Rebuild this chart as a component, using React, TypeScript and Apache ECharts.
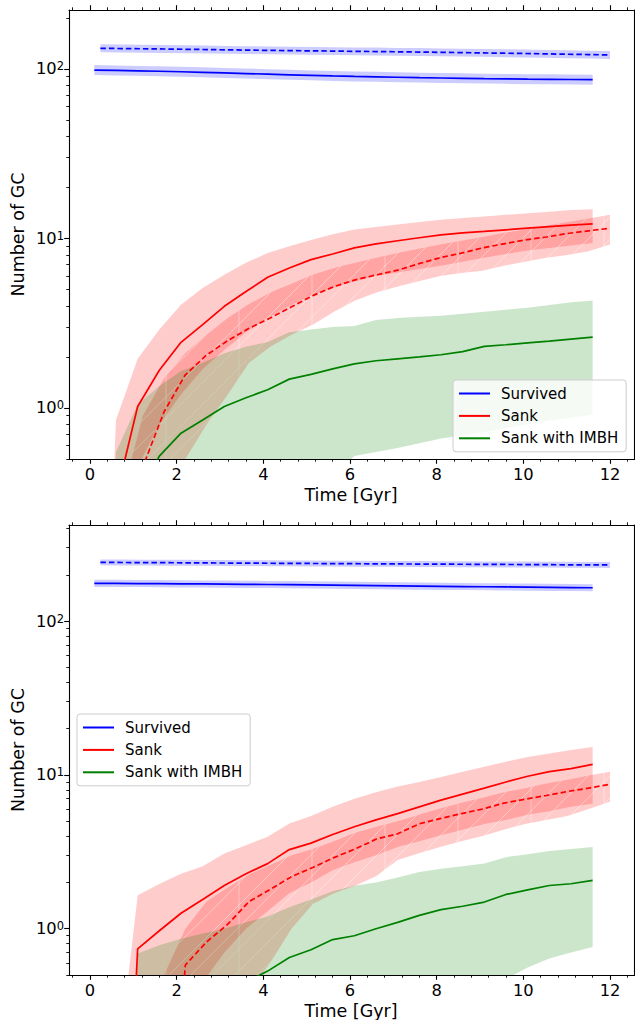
import { useEffect, useRef } from 'react';
import * as echarts from 'echarts';

// ---------- time grids (Gyr) ----------
const tSolid = [0.1, 0.6, 1.1, 1.6, 2.1, 2.6, 3.1, 3.6, 4.1, 4.6, 5.1, 5.6, 6.1, 6.6, 7.1, 7.6, 8.1, 8.6, 9.1, 9.6, 10.1, 10.6, 11.1, 11.6];
const tDashed = [0.24, 0.73, 1.22, 1.71, 2.2, 2.69, 3.18, 3.67, 4.16, 4.65, 5.14, 5.63, 6.12, 6.61, 7.1, 7.59, 8.08, 8.57, 9.06, 9.55, 10.04, 10.53, 11.02, 11.51, 12.0];

// ---------- top panel ----------
const topSurv = [98.5, 98, 97.5, 97, 96.3, 95.6, 94.8, 94, 93.2, 92.4, 91.7, 91, 90.4, 89.9, 89.4, 88.9, 88.5, 88.1, 87.7, 87.4, 87.1, 86.9, 86.7, 86.5];
const topSurvHi = [105.4, 104.9, 104.3, 103.8, 103.0, 102.3, 101.4, 100.6, 99.7, 98.9, 98.1, 97.4, 96.7, 96.2, 95.7, 95.1, 94.7, 94.3, 93.8, 93.5, 93.2, 93.0, 92.8, 92.6];
const topSurvLo = [92.1, 91.6, 91.1, 90.7, 90.0, 89.3, 88.6, 87.9, 87.1, 86.4, 85.7, 85.0, 84.5, 84.0, 83.6, 83.1, 82.7, 82.3, 82.0, 81.7, 81.4, 81.2, 81.0, 80.8];
const topSurvD = [132.4, 132, 131.6, 131.2, 130.7, 130.2, 129.7, 129.2, 128.7, 128.3, 127.9, 127.5, 127.1, 126.7, 126.3, 125.9, 125.4, 124.9, 124.4, 123.9, 123.4, 122.8, 122.2, 121.6, 121];
const topSurvDHi = [139.7, 139.3, 138.8, 138.4, 137.9, 137.4, 136.8, 136.3, 135.8, 135.4, 134.9, 134.5, 134.1, 133.7, 133.2, 132.8, 132.3, 131.8, 131.2, 130.7, 130.2, 129.6, 128.9, 128.3, 127.7];
const topSurvDLo = [125.5, 125.1, 124.7, 124.4, 123.9, 123.4, 122.9, 122.5, 122.0, 121.6, 121.2, 120.9, 120.5, 120.1, 119.7, 119.3, 118.9, 118.4, 117.9, 117.4, 117.0, 116.4, 115.8, 115.3, 114.7];

const topSank = [0.01, 0.3, 1.02, 1.67, 2.44, 3.1, 3.98, 4.87, 5.9, 6.7, 7.5, 8.1, 8.8, 9.3, 9.7, 10.1, 10.5, 10.8, 11.0, 11.25, 11.5, 11.75, 12.0, 12.2];
const topSankHi = [0.001, 0.85, 1.95, 2.9, 4.07, 5.1, 6.1, 7.2, 8.2, 9.0, 9.8, 10.6, 11.3, 11.7, 12.1, 12.5, 12.9, 13.2, 13.5, 13.8, 14.1, 14.4, 14.7, 14.9];
const topSankLo = [0.001, 0.1, 0.45, 0.8, 1.2, 1.7, 2.2, 2.8, 3.4, 4.0, 4.6, 5.1, 5.6, 6.0, 6.3, 6.6, 6.9, 7.3, 7.7, 8.1, 8.5, 8.8, 9.1, 9.4];
const topSankD = [0.01, 0.05, 0.45, 0.95, 1.57, 2.05, 2.5, 2.95, 3.4, 3.95, 4.6, 5.2, 5.7, 6.1, 6.5, 7.1, 7.7, 8.2, 8.8, 9.3, 9.8, 10.2, 10.7, 11.1, 11.5];
const topSankDHi = [0.001, 0.3, 0.9, 1.5, 2.1, 2.7, 3.4, 4.1, 4.8, 5.4, 6.1, 6.7, 7.2, 7.7, 8.2, 8.7, 9.2, 9.7, 10.2, 10.8, 11.3, 11.9, 12.5, 13.1, 13.8];
const topSankDLo = [0.001, 0.001, 0.1, 0.3, 0.5, 0.8, 1.2, 1.85, 2.3, 2.7, 3.1, 3.7, 4.3, 4.8, 5.2, 5.6, 6.0, 6.25, 6.45, 6.9, 7.3, 7.7, 8.0, 8.4, 9.2];

const topImbh = [0.001, 0.05, 0.3, 0.52, 0.71, 0.85, 1.02, 1.15, 1.28, 1.48, 1.58, 1.7, 1.82, 1.9, 1.95, 2.0, 2.06, 2.15, 2.31, 2.36, 2.42, 2.48, 2.55, 2.62];
const topImbhHi = [0.001, 0.55, 1.05, 1.35, 1.65, 1.85, 2.1, 2.3, 2.45, 2.8, 2.9, 3.0, 3.05, 3.3, 3.4, 3.45, 3.5, 3.6, 3.7, 3.8, 3.9, 4.05, 4.2, 4.3];
const topImbhLo = [0.001, 0.001, 0.001, 0.01, 0.02, 0.04, 0.06, 0.09, 0.13, 0.18, 0.25, 0.4, 0.52, 0.55, 0.58, 0.62, 0.66, 0.69, 0.72, 0.76, 0.8, 0.84, 0.88, 0.91];

// ---------- bottom panel ----------
const botSurv = [176, 175.8, 175.5, 175.2, 174.8, 174.4, 174, 173.5, 173, 172.5, 172, 171.4, 170.8, 170.2, 169.6, 169, 168.4, 167.8, 167.3, 166.8, 166.3, 165.8, 165.3, 164.8];
const botSurvHi = [185.7, 185.5, 185.2, 184.8, 184.4, 184.0, 183.6, 183.0, 182.5, 182.0, 181.5, 180.8, 180.2, 179.6, 178.9, 178.3, 177.7, 177.0, 176.5, 176.0, 175.4, 174.9, 174.4, 173.9];
const botSurvLo = [166.8, 166.6, 166.4, 166.1, 165.7, 165.3, 164.9, 164.5, 164.0, 163.5, 163.0, 162.5, 161.9, 161.3, 160.8, 160.2, 159.6, 159.1, 158.6, 158.1, 157.6, 157.2, 156.7, 156.2];
const botSurvD = [241, 240.6, 240.2, 239.8, 239.4, 239, 238.6, 238.2, 237.8, 237.4, 237, 236.6, 236.2, 235.8, 235.4, 235, 234.6, 234.3, 234, 233.6, 233.2, 232.8, 232.4, 232.1, 231.8];
const botSurvDHi = [251.8, 251.4, 251.0, 250.6, 250.2, 249.8, 249.3, 248.9, 248.5, 248.1, 247.7, 247.2, 246.8, 246.4, 246.0, 245.6, 245.2, 244.8, 244.5, 244.1, 243.7, 243.3, 242.9, 242.5, 242.2];
const botSurvDLo = [230.6, 230.2, 229.9, 229.5, 229.1, 228.7, 228.3, 227.9, 227.6, 227.2, 226.8, 226.4, 226.0, 225.6, 225.3, 224.9, 224.5, 224.2, 223.9, 223.5, 223.2, 222.8, 222.4, 222.1, 221.8];

const botSank = [0.001, 0.001, 0.74, 0.97, 1.26, 1.55, 1.91, 2.28, 2.65, 3.27, 3.6, 4.1, 4.6, 5.1, 5.6, 6.2, 6.85, 7.5, 8.2, 9.0, 9.8, 10.5, 11.0, 11.7];
const botSankHi = [0.001, 0.1, 1.65, 1.95, 2.28, 2.55, 3.08, 3.49, 3.96, 4.83, 5.4, 6.2, 7.0, 7.7, 8.4, 9.0, 9.7, 10.5, 11.3, 12.2, 13.1, 13.8, 14.5, 15.2];
const botSankLo = [0.001, 0.001, 0.1, 0.2, 0.3, 0.45, 0.7, 1.0, 1.3, 1.7, 2.0, 2.4, 2.7, 3.0, 3.4, 3.7, 4.05, 4.4, 4.8, 5.1, 5.5, 5.8, 6.2, 6.5];
const botSankD = [0.001, 0.001, 0.001, 0.01, 0.58, 0.82, 1.07, 1.5, 1.8, 2.18, 2.5, 2.9, 3.3, 3.83, 4.14, 4.8, 5.2, 5.6, 6.0, 6.55, 6.95, 7.35, 7.8, 8.2, 8.7];
const botSankDHi = [0.001, 0.001, 0.001, 0.5, 1.0, 1.5, 1.85, 2.25, 2.6, 3.0, 3.3, 3.7, 4.2, 4.6, 5.0, 5.5, 6.05, 6.6, 7.1, 7.7, 8.2, 8.8, 9.3, 9.9, 10.5];
const botSankDLo = [0.001, 0.001, 0.001, 0.001, 0.001, 0.001, 0.001, 0.4, 0.6, 1.0, 1.45, 1.7, 1.9, 2.2, 2.8, 3.1, 3.4, 3.7, 4.0, 4.4, 4.8, 5.1, 5.4, 6.0, 6.7];

const botImbh = [0.001, 0.001, 0.01, 0.03, 0.06, 0.12, 0.25, 0.45, 0.53, 0.65, 0.73, 0.85, 0.9, 1.0, 1.1, 1.22, 1.33, 1.4, 1.49, 1.67, 1.79, 1.91, 1.96, 2.06];
const botImbhHi = [0.001, 0.001, 0.69, 0.78, 0.86, 0.93, 1.0, 1.1, 1.2, 1.38, 1.55, 1.75, 1.9, 2.0, 2.15, 2.34, 2.45, 2.55, 2.65, 2.92, 3.05, 3.2, 3.3, 3.4];
const botImbhLo = [0.001, 0.001, 0.001, 0.001, 0.001, 0.001, 0.001, 0.01, 0.02, 0.03, 0.05, 0.07, 0.09, 0.12, 0.15, 0.2, 0.25, 0.3, 0.4, 0.47, 0.56, 0.64, 0.7, 0.76];

// ---------- ticks ----------
const xMajorTicks = [0, 2, 4, 6, 8, 10, 12];
const xMinorTicks = [-0.4, 0.4, 0.8, 1.2, 1.6, 2.4, 2.8, 3.2, 3.6, 4.4, 4.8, 5.2, 5.6, 6.4, 6.8, 7.2, 7.6, 8.4, 8.8, 9.2, 9.6, 10.4, 10.8, 11.2, 11.6, 12.4];
const yMajorTicks = [1, 10, 100];
const yMinorTicks = [0.5, 0.6, 0.7, 0.8, 0.9, 2, 3, 4, 5, 6, 7, 8, 9, 20, 30, 40, 50, 60, 70, 80, 90, 200, 300, 400];
const legendNames = ['Survived', 'Sank', 'Sank with IMBH'];

const L = (v: number) => Math.log10(v);
const FONT = 'DejaVu Sans';
const X_MIN = -0.4846;
const X_MAX = 12.554;
const Y_MIN = L(0.5);
const Y_MAX_TOP = 2.348;
const Y_MAX_BOT = 2.625;

const BLUE = '#0000ff';
const RED = '#ff0000';
const GREEN = '#008000';
const F_BLUE = 'rgba(0,0,255,0.2)';
const F_RED = 'rgba(255,0,0,0.2)';
const F_GREEN = 'rgba(0,128,0,0.2)';
const HATCH = 'rgba(255,255,255,0.38)';

function xAxesFor(gridIndex: number) {
  const common = {
    type: 'value', gridIndex, min: X_MIN, max: X_MAX,
    splitLine: { show: false }, axisPointer: { show: false },
  };
  const line = { show: true, onZero: false, lineStyle: { color: '#000', width: 1.1 } };
  const noLine = { show: false, onZero: false };
  const major = { show: true, length: 4.8, customValues: xMajorTicks, lineStyle: { color: '#000', width: 1.1 } };
  const minor = { show: true, length: 2.7, customValues: xMinorTicks, lineStyle: { color: '#000', width: 0.9 } };
  return [
    {
      ...common, position: 'bottom', axisLine: line, axisTick: major,
      axisLabel: { show: true, customValues: xMajorTicks, margin: 7, fontSize: 16.3, fontFamily: FONT, color: '#000', formatter: (v: number) => String(v) },
    },
    { ...common, position: 'bottom', axisLine: noLine, axisTick: minor, axisLabel: { show: false } },
    { ...common, position: 'top', axisLine: line, axisTick: major, axisLabel: { show: false } },
    { ...common, position: 'top', axisLine: noLine, axisTick: minor, axisLabel: { show: false } },
  ];
}

function yAxesFor(gridIndex: number, yMax: number) {
  const common = {
    type: 'value', gridIndex, min: Y_MIN, max: yMax,
    splitLine: { show: false }, axisPointer: { show: false },
  };
  const majorVals = yMajorTicks.map(L);
  const minorVals = yMinorTicks.map(L).filter((v) => v >= Y_MIN - 1e-9 && v <= yMax);
  const line = { show: true, onZero: false, lineStyle: { color: '#000', width: 1.1 } };
  const noLine = { show: false, onZero: false };
  const major = { show: true, length: 4.8, customValues: majorVals, lineStyle: { color: '#000', width: 1.1 } };
  const minor = { show: true, length: 2.7, customValues: minorVals, lineStyle: { color: '#000', width: 0.9 } };
  return [
    {
      ...common, position: 'left', axisLine: line, axisTick: major,
      axisLabel: {
        show: true, customValues: majorVals, margin: 5,
        formatter: (v: number) => `{b|10}{s|${Math.round(v)}}`,
        rich: {
          b: { fontSize: 16.3, fontFamily: FONT, color: '#000', verticalAlign: 'middle', lineHeight: 17 },
          s: { fontSize: 11.5, fontFamily: FONT, color: '#000', verticalAlign: 'top', lineHeight: 12, padding: [0, 0, 12, 0] },
        },
      },
    },
    { ...common, position: 'left', axisLine: noLine, axisTick: minor, axisLabel: { show: false } },
    { ...common, position: 'right', axisLine: line, axisTick: major, axisLabel: { show: false } },
    { ...common, position: 'right', axisLine: noLine, axisTick: minor, axisLabel: { show: false } },
  ];
}

function lineSeries(name: string, grid: number, ts: number[], vals: number[], color: string, dashed: boolean) {
  const idx = grid * 4;
  return {
    type: 'line', name, xAxisIndex: idx, yAxisIndex: idx,
    data: ts.map((t, i) => [t, L(vals[i])]),
    symbol: 'none', showSymbol: false, clip: true, silent: true, z: 4,
    lineStyle: { color, width: 1.7, type: dashed ? [5.5, 3] : 'solid' },
    itemStyle: { color },
  };
}

function bandSeries(grid: number, ts: number[], hi: number[], lo: number[], fill: string, hatch: boolean) {
  const idx = grid * 4;
  return {
    type: 'custom', xAxisIndex: idx, yAxisIndex: idx, clip: true, silent: true, z: 2,
    data: [[ts[0], 0]],
    renderItem: (params: any, api: any) => {
      const pts: number[][] = [];
      for (let i = 0; i < ts.length; i++) pts.push(api.coord([ts[i], L(hi[i])]));
      for (let i = ts.length - 1; i >= 0; i--) pts.push(api.coord([ts[i], L(lo[i])]));
      const poly = { type: 'polygon', shape: { points: pts }, style: { fill } };
      if (!hatch) return poly;
      const cs = params.coordSys;
      const x0 = cs.x, y0 = cs.y, w = cs.width, h = cs.height;
      const children: any[] = [];
      const step = 22;
      for (let c = x0 - h; c < x0 + w; c += step) {
        children.push({ type: 'line', shape: { x1: c, y1: y0 + h, x2: c + h, y2: y0 }, style: { stroke: HATCH, lineWidth: 1 } });
      }
      for (let c = x0 + 24; c < x0 + w; c += 73) {
        children.push({ type: 'line', shape: { x1: c, y1: y0, x2: c, y2: y0 + h }, style: { stroke: HATCH, lineWidth: 1 } });
      }
      return {
        type: 'group',
        children: [
          poly,
          { type: 'group', clipPath: { type: 'polygon', shape: { points: pts } }, children },
        ],
      };
    },
  };
}

function legendFor(left: number, top: number) {
  return {
    left, top, orient: 'vertical', data: legendNames, selectedMode: false,
    icon: 'rect', itemWidth: 31, itemHeight: 2, itemGap: 4.4,
    padding: [4.5, 8, 4.5, 6],
    backgroundColor: 'rgba(255,255,255,0.8)', borderColor: '#cccccc', borderWidth: 1, borderRadius: 3,
    textStyle: { fontSize: 15, fontFamily: FONT, color: '#000', lineHeight: 18, padding: [0, 0, 0, 6] },
  };
}

function axisTitle(text: string, x: number, y: number, rotate: boolean) {
  return {
    type: 'text', x, y, rotation: rotate ? Math.PI / 2 : 0, silent: true,
    style: { text, fontSize: 17.5, fontFamily: FONT, fill: '#000', align: 'center', verticalAlign: 'middle' },
  };
}

function panelSeries(grid: number, d: any) {
  return [
    bandSeries(grid, tSolid, d.survHi, d.survLo, F_BLUE, false),
    bandSeries(grid, tDashed, d.survDHi, d.survDLo, F_BLUE, false),
    bandSeries(grid, tSolid, d.sankHi, d.sankLo, F_RED, false),
    bandSeries(grid, tDashed, d.sankDHi, d.sankDLo, F_RED, true),
    bandSeries(grid, tSolid, d.imbhHi, d.imbhLo, F_GREEN, false),
    lineSeries('Survived', grid, tSolid, d.surv, BLUE, false),
    lineSeries('Survived (dashed)', grid, tDashed, d.survD, BLUE, true),
    lineSeries('Sank', grid, tSolid, d.sank, RED, false),
    lineSeries('Sank (dashed)', grid, tDashed, d.sankD, RED, true),
    lineSeries('Sank with IMBH', grid, tSolid, d.imbh, GREEN, false),
  ];
}

export default function App() {
  const ref = useRef<HTMLDivElement>(null);
  useEffect(() => {
    if (!ref.current) return;
    const chart = echarts.init(ref.current, undefined, { renderer: 'svg' });
    const top = {
      surv: topSurv, survHi: topSurvHi, survLo: topSurvLo, survD: topSurvD, survDHi: topSurvDHi, survDLo: topSurvDLo,
      sank: topSank, sankHi: topSankHi, sankLo: topSankLo, sankD: topSankD, sankDHi: topSankDHi, sankDLo: topSankDLo,
      imbh: topImbh, imbhHi: topImbhHi, imbhLo: topImbhLo,
    };
    const bot = {
      surv: botSurv, survHi: botSurvHi, survLo: botSurvLo, survD: botSurvD, survDHi: botSurvDHi, survDLo: botSurvDLo,
      sank: botSank, sankHi: botSankHi, sankLo: botSankLo, sankD: botSankD, sankDHi: botSankDHi, sankDLo: botSankDLo,
      imbh: botImbh, imbhHi: botImbhHi, imbhLo: botImbhLo,
    };
    chart.setOption({
      animation: false,
      backgroundColor: '#ffffff',
      grid: [
        { left: 69, top: 10, width: 565, height: 449, containLabel: false },
        { left: 69, top: 525, width: 565, height: 450, containLabel: false },
      ],
      xAxis: [...xAxesFor(0), ...xAxesFor(1)],
      yAxis: [...yAxesFor(0, Y_MAX_TOP), ...yAxesFor(1, Y_MAX_BOT)],
      legend: [legendFor(453, 380), legendFor(77, 714)],
      graphic: [
        axisTitle('Number of GC', 18, 234.5, true),
        axisTitle('Number of GC', 18, 750, true),
        axisTitle('Time [Gyr]', 351, 495, false),
        axisTitle('Time [Gyr]', 351, 1011, false),
      ],
      series: [...panelSeries(0, top), ...panelSeries(1, bot)],
    });
    return () => chart.dispose();
  }, []);
  return <div ref={ref} style={{ position: 'absolute', left: 0, top: 0, width: 635, height: 1020 }} />;
}
